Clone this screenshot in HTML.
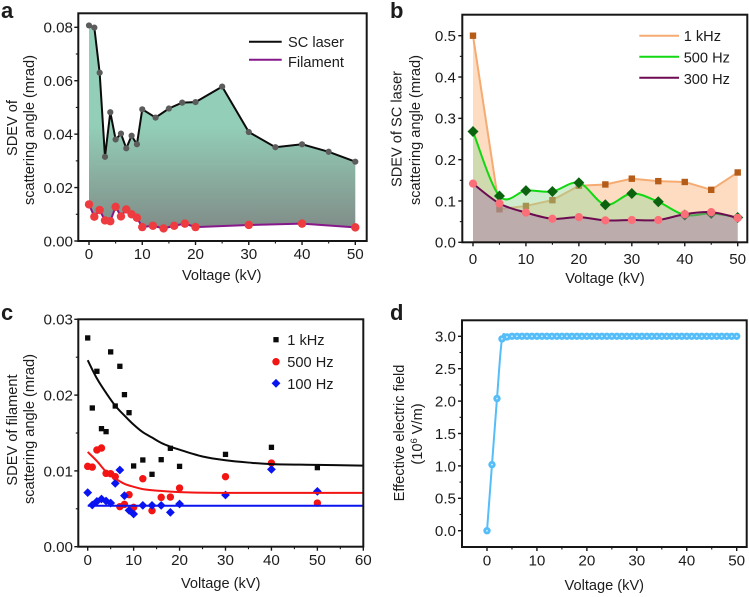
<!DOCTYPE html>
<html>
<head>
<meta charset="utf-8">
<title>Scattering angle charts</title>
<style>
html,body{margin:0;padding:0;background:#fff;width:749px;height:597px;overflow:hidden}
svg{display:block}
text{font-family:"Liberation Sans",Arial,sans-serif;fill:#1c1c1c}
</style>
</head>
<body>
<svg id="fig" xmlns="http://www.w3.org/2000/svg" width="749" height="597" viewBox="0 0 749 597">
<defs>
<linearGradient id="fillA" gradientUnits="userSpaceOnUse" x1="0" y1="125" x2="0" y2="228">
<stop offset="0" stop-color="#93cfb8"/><stop offset="1" stop-color="#808d88"/>
</linearGradient>
</defs>
</svg>
<script>
// Panel a
const aScX = [0,1,2,3,4,5,6,7,8,9,10,12.5,15,17.5,20,25,30,35,40,45,50];
const aScY = [0.0807,0.0799,0.063,0.0315,0.0482,0.038,0.0402,0.0347,0.0394,0.0362,0.0493,0.0462,0.0496,0.0518,0.052,0.0578,0.0408,0.0351,0.0362,0.0334,0.0297];
const aFilX = [0,1,2,3,4,5,6,7,8,9,10,12,14,16,18,20,30,40,50];
const aFilY = [0.0137,0.0091,0.0116,0.0077,0.0074,0.0128,0.0092,0.0118,0.01,0.0087,0.0052,0.0057,0.0047,0.0057,0.0065,0.0052,0.006,0.0065,0.0051];
const aXTicks = [0,10,20,30,40,50];
const aXMinor = [5,15,25,35,45];
const aYTicks = ["0.00","0.02","0.04","0.06","0.08"];
const aYMinor = [0.01,0.03,0.05,0.07];
// Panel b
const bX = [0,5,10,15,20,25,30,35,40,45,50];
const b1k = [0.5,0.08,0.088,0.102,0.137,0.14,0.154,0.148,0.146,0.127,0.169];
const b500 = [0.268,0.112,0.125,0.123,0.144,0.091,0.118,0.098,0.066,0.07,0.06];
const b300 = [0.142,0.094,0.072,0.057,0.061,0.053,0.054,0.054,0.068,0.073,0.059];
const bXTicks = [0,10,20,30,40,50];
const bXMinor = [5,15,25,35,45];
const bYTicks = ["0.0","0.1","0.2","0.3","0.4","0.5"];
const bYMinor = [0.05,0.15,0.25,0.35,0.45];
// Panel c
const cX = [0,1,2,3,4,5,6,7,8,9,10,12,14,16,18,20,30,40,50];
const c1k = [0.02754,0.0183,0.02314,0.01557,0.01518,0.0257,0.01856,0.0238,0.02006,0.01768,0.01065,0.01144,0.00955,0.01148,0.01298,0.0106,0.01218,0.01311,0.01043];
const c500 = [0.0106,0.0105,0.01276,0.01302,0.00968,0.00963,0.00924,0.00528,0.00559,0.00686,0.00519,0.00897,0.00475,0.00651,0.00655,0.00774,0.00924,0.01104,0.00576];
const c100 = [0.00713,0.0055,0.00598,0.00629,0.00603,0.00576,0.00836,0.01012,0.00673,0.0048,0.00431,0.00545,0.00545,0.00545,0.00453,0.00563,0.00682,0.0102,0.0073];
const cFit1kX = [0,2,4,6,8,10,12,14,16,18,20,25,30,35,40,50,60];
const cFit1kY = [0.0246,0.0222,0.0203,0.0186,0.0173,0.0161,0.0151,0.0144,0.0137,0.0132,0.0128,0.0119,0.0114,0.0111,0.0109,0.0108,0.0107];
const cFit500X = [0,2,4,6,8,10,12,15,20,30,60];
const cFit500Y = [0.0125,0.0113,0.0099,0.009,0.0083,0.0079,0.0076,0.0074,0.0072,0.0071,0.0071];
const cFit100X = [0,60];
const cFit100Y = [0.0054,0.0054];
const cXTicks = [0,10,20,30,40,50,60];
const cXMinor = [5,15,25,35,45,55];
const cYTicks = ["0.00","0.01","0.02","0.03"];
const cYMinor = [0.005,0.015,0.025];
// Panel d
const dX = [0,1,2,3,4,5,6,7,8,9,10,11,12,13,14,15,16,17,18,19,20,21,22,23,24,25,26,27,28,29,30,31,32,33,34,35,36,37,38,39,40,41,42,43,44,45,46,47,48,49,50];
const dY = [0,1.02,2.04,2.96,2.99,3,3,3,3,3,3,3,3,3,3,3,3,3,3,3,3,3,3,3,3,3,3,3,3,3,3,3,3,3,3,3,3,3,3,3,3,3,3,3,3,3,3,3,3,3,3];
const dXTicks = [0,10,20,30,40,50];
const dXMinor = [5,15,25,35,45];
const dYTicks = ["0.0","0.5","1.0","1.5","2.0","2.5","3.0"];
const dYMinor = [0.25,0.75,1.25,1.75,2.25,2.75];

const NS = 'http://www.w3.org/2000/svg';
const fig = document.getElementById('fig');
const INK = '#161616';
const LW = 2;
function mk(tag, attrs, parent) {
  const e = document.createElementNS(NS, tag);
  for (const k in attrs) e.setAttribute(k, attrs[k]);
  (parent || fig).appendChild(e);
  return e;
}
function scale(d0, d1, r0, r1) { return v => r0 + (v - d0) * (r1 - r0) / (d1 - d0); }
function pts(xs, ys, fx, fy) { return xs.map((x, i) => [fx(x), fy(ys[i])]); }
function lineD(p) { return p.map((q, i) => (i ? 'L' : 'M') + q[0].toFixed(2) + ' ' + q[1].toFixed(2)).join(''); }
function splineD(p) {
  let d = 'M' + p[0][0].toFixed(2) + ' ' + p[0][1].toFixed(2);
  for (let i = 0; i < p.length - 1; i++) {
    const a = p[Math.max(i - 1, 0)], b = p[i], c = p[i + 1], e = p[Math.min(i + 2, p.length - 1)];
    const c1x = b[0] + (c[0] - a[0]) / 6, c1y = b[1] + (c[1] - a[1]) / 6;
    const c2x = c[0] - (e[0] - b[0]) / 6, c2y = c[1] - (e[1] - b[1]) / 6;
    d += 'C' + c1x.toFixed(2) + ' ' + c1y.toFixed(2) + ' ' + c2x.toFixed(2) + ' ' + c2y.toFixed(2) + ' ' + c[0].toFixed(2) + ' ' + c[1].toFixed(2);
  }
  return d;
}
function square(cx, cy, s, fill, g) { return mk('rect', {x: cx - s / 2, y: cy - s / 2, width: s, height: s, fill: fill}, g); }
function diamond(cx, cy, s, fill, g) { return mk('polygon', {points: [cx, cy - s, cx + s, cy, cx, cy + s, cx - s, cy].join(','), fill: fill}, g); }
function circle(cx, cy, r, fill, g) { return mk('circle', {cx: cx, cy: cy, r: r, fill: fill}, g); }
function label(x, y, str, size, anchor, g, weight) {
  const t = mk('text', {x: x, y: y, 'font-size': size, 'text-anchor': anchor || 'start', 'font-weight': weight || 'normal'}, g);
  t.textContent = str;
  return t;
}
function rotLabel(x, y, str, g) {
  const t = mk('text', {x: x, y: y, 'font-size': 14.6, 'text-anchor': 'middle', transform: 'rotate(-90 ' + x + ' ' + y + ')'}, g);
  t.textContent = str;
  return t;
}
function axes(g, box, fx, fy, xT, xM, yT, yM, xLabY, yLabR) {
  const frame = mk('rect', {x: box.l, y: box.t, width: box.r - box.l, height: box.b - box.t, fill: 'none', stroke: INK, 'stroke-width': 2}, g);
  
  
  xT.forEach(v => {
    const tick = mk('line', {x1: fx(v), x2: fx(v), y1: box.b, y2: box.b + 4, stroke: INK, 'stroke-width': 1.4}, g);
    
    
    const lab = label(fx(v), xLabY, String(v), 15.2, 'middle', g);
    
    
  });
  xM.forEach(v => {
    const tick = mk('line', {x1: fx(v), x2: fx(v), y1: box.b, y2: box.b + 2.5, stroke: INK, 'stroke-width': 1.1}, g);
    
    
  });
  yT.forEach(s => {
    const v = parseFloat(s);
    const tick = mk('line', {x1: box.l - 4, x2: box.l, y1: fy(v), y2: fy(v), stroke: INK, 'stroke-width': 1.4}, g);
    
    
    const lab = label(yLabR, fy(v) + 5.4, s, 15.2, 'end', g);
    
    
  });
  yM.forEach(v => {
    const tick = mk('line', {x1: box.l - 2.5, x2: box.l, y1: fy(v), y2: fy(v), stroke: INK, 'stroke-width': 1.1}, g);
    
    
  });
}

/* ---------- Panel a ---------- */
const gA = mk('g', {});


const ax = scale(0, 50, 89, 355.3), ay = scale(0, 0.08, 241, 27.3);
const aSc = pts(aScX, aScY, ax, ay), aFil = pts(aFilX, aFilY, ax, ay);
const aArea = mk('path', {d: lineD(aSc.concat(aFil.slice().reverse())) + 'Z', fill: 'url(#fillA)'}, gA);


const aLine1 = mk('path', {d: lineD(aSc), fill: 'none', stroke: '#0c0c0c', 'stroke-width': LW}, gA);


const aLine2 = mk('path', {d: lineD(aFil), fill: 'none', stroke: '#86188a', 'stroke-width': LW}, gA);


aSc.forEach(q => {
  const m = circle(q[0], q[1], 3.1, '#5c5c5c', gA);
  
  
});
aFil.forEach(q => {
  const m = circle(q[0], q[1], 4.2, '#ee3b3f', gA);
  
  
});
axes(gA, {l: 78.3, r: 366.7, t: 13.3, b: 241}, ax, ay, aXTicks, aXMinor, aYTicks, aYMinor, 259, 73);
const aTx = label(221.7, 280, 'Voltage (kV)', 14.6, 'middle', gA);


const aTy1 = rotLabel(17, 128, 'SDEV of', gA);


const aTy2 = rotLabel(34, 130, 'scattering angle (mrad)', gA);


const aLeg1 = mk('line', {x1: 249, x2: 281.7, y1: 41.7, y2: 41.7, stroke: '#0c0c0c', 'stroke-width': LW}, gA);


const aLeg1t = label(288, 47, 'SC laser', 14.6, 'start', gA);


const aLeg2 = mk('line', {x1: 249, x2: 281.7, y1: 59.7, y2: 59.7, stroke: '#86188a', 'stroke-width': LW}, gA);


const aLeg2t = label(288, 67, 'Filament', 14.6, 'start', gA);


const aLetter = label(1, 18, 'a', 22, 'start', gA, 'bold');



/* ---------- Panel b ---------- */
const gB = mk('g', {});


const bx = scale(0, 50, 473, 737.7), by = scale(0, 0.5, 242.3, 35.7);
function areaUnder(d, p) { return d + 'L' + p[p.length - 1][0] + ' ' + by(0) + 'L' + p[0][0] + ' ' + by(0) + 'Z'; }
const b1kP = pts(bX, b1k, bx, by), b500P = pts(bX, b500, bx, by), b300P = pts(bX, b300, bx, by);
const b1kD = lineD(b1kP), b500D = splineD(b500P), b300D = splineD(b300P);
const b1kA = mk('path', {d: areaUnder(b1kD, b1kP), fill: '#fddcc2'}, gB);


const b1kL = mk('path', {d: b1kD, fill: 'none', stroke: '#f5ab72', 'stroke-width': LW}, gB);


b1kP.forEach(q => {
  const m = square(q[0], q[1], 6.4, '#b55c18', gB);
  
  
});
const b500A = mk('path', {d: areaUnder(b500D, b500P), fill: 'rgba(150,215,150,0.45)'}, gB);


const b500L = mk('path', {d: b500D, fill: 'none', stroke: '#12d812', 'stroke-width': LW}, gB);


b500P.forEach(q => {
  const m = diamond(q[0], q[1], 5.5, '#0b620f', gB);
  
  
});
const b300A = mk('path', {d: areaUnder(b300D, b300P), fill: 'rgba(165,110,170,0.42)'}, gB);


const b300L = mk('path', {d: b300D, fill: 'none', stroke: '#6c0b50', 'stroke-width': LW}, gB);


b300P.forEach(q => {
  const m = circle(q[0], q[1], 4.1, '#fb7078', gB);
  
  
});
axes(gB, {l: 462.3, r: 747.3, t: 14.7, b: 242.3}, bx, by, bXTicks, bXMinor, bYTicks, bYMinor, 264, 456);
const bTx = label(605, 283, 'Voltage (kV)', 14.6, 'middle', gB);


const bTy1 = rotLabel(401.5, 129, 'SDEV of SC laser', gB);


const bTy2 = rotLabel(420, 130, 'scattering angle (mrad)', gB);


const bL1 = mk('line', {x1: 639.3, x2: 679, y1: 35.7, y2: 35.7, stroke: '#f5ab72', 'stroke-width': LW}, gB);


const bL1t = label(683.7, 41, '1 kHz', 14.6, 'start', gB);


const bL2 = mk('line', {x1: 639.3, x2: 679, y1: 56.7, y2: 56.7, stroke: '#12d812', 'stroke-width': LW}, gB);


const bL2t = label(683.7, 62.5, '500 Hz', 14.6, 'start', gB);


const bL3 = mk('line', {x1: 639.3, x2: 679, y1: 77.7, y2: 77.7, stroke: '#6c0b50', 'stroke-width': LW}, gB);


const bL3t = label(683.7, 84, '300 Hz', 14.6, 'start', gB);


const bLetter = label(390, 18, 'b', 22, 'start', gB, 'bold');



/* ---------- Panel c ---------- */
const gC = mk('g', {});


const cx = scale(0, 60, 87.7, 363.3), cy = scale(0, 0.03, 546.7, 319.3);
pts(cX, c1k, cx, cy).forEach(q => {
  const m = square(q[0], q[1], 5.3, '#0a0a0a', gC);
  
  
});
pts(cX, c500, cx, cy).forEach(q => {
  const m = circle(q[0], q[1], 3.7, '#f31414', gC);
  
  
});
pts(cX, c100, cx, cy).forEach(q => {
  const m = diamond(q[0], q[1], 4.4, '#0a14f0', gC);
  
  
});
const cF1 = mk('path', {d: splineD(pts(cFit1kX, cFit1kY, cx, cy)), fill: 'none', stroke: '#0a0a0a', 'stroke-width': LW}, gC);


const cF2 = mk('path', {d: splineD(pts(cFit500X, cFit500Y, cx, cy)), fill: 'none', stroke: '#f31414', 'stroke-width': LW}, gC);


const cF3 = mk('path', {d: lineD(pts(cFit100X, cFit100Y, cx, cy)), fill: 'none', stroke: '#0a14f0', 'stroke-width': LW}, gC);


axes(gC, {l: 78.3, r: 363.3, t: 319.3, b: 546.7}, cx, cy, cXTicks, cXMinor, cYTicks, cYMinor, 565, 73);
const cTx = label(220.7, 588, 'Voltage (kV)', 14.6, 'middle', gC);


const cTy1 = rotLabel(17, 430, 'SDEV of filament', gC);


const cTy2 = rotLabel(34, 429, 'scattering angle (mrad)', gC);


const cL1 = square(276, 339.7, 5.3, '#0a0a0a', gC);


const cL1t = label(287.3, 345, '1 kHz', 14.6, 'start', gC);


const cL2 = circle(276, 361.7, 3.7, '#f31414', gC);


const cL2t = label(287.3, 367, '500 Hz', 14.6, 'start', gC);


const cL3 = diamond(276, 383.3, 4.4, '#0a14f0', gC);


const cL3t = label(287.3, 389, '100 Hz', 14.6, 'start', gC);


const cLetter = label(1, 320, 'c', 22, 'start', gC, 'bold');



/* ---------- Panel d ---------- */
const gD = mk('g', {});


const dx = scale(0, 50, 487, 736.7), dy = scale(0, 3, 530.7, 336.3);
const dP = pts(dX, dY, dx, dy);
const dL = mk('path', {d: splineD(dP), fill: 'none', stroke: '#55bdf8', 'stroke-width': LW}, gD);


dP.forEach(q => {
  const m = circle(q[0], q[1], 3.7, '#55bdf8', gD);
  
  
});
dP.forEach(q => {
  const m = circle(q[0], q[1], 0.9, '#d6f0ff', gD);
  
  
});
axes(gD, {l: 462, r: 746.7, t: 320.3, b: 547}, dx, dy, dXTicks, dXMinor, dYTicks, dYMinor, 565.5, 456);
const dTx = label(604.3, 590, 'Voltage (kV)', 14.6, 'middle', gD);


const dTy1 = rotLabel(404, 433, 'Effective electric field', gD);


const dTy2 = rotLabel(422, 434, '', gD);


const ts1 = mk('tspan', {}, dTy2);
ts1.textContent = '(10';
const ts2 = mk('tspan', {'font-size': 9.5, dy: -5}, dTy2);
ts2.textContent = '6';
const ts3 = mk('tspan', {dy: 5}, dTy2);
ts3.textContent = ' V/m)';
const dLetter = label(390, 320, 'd', 22, 'start', gD, 'bold');


</script>
</body>
</html>
